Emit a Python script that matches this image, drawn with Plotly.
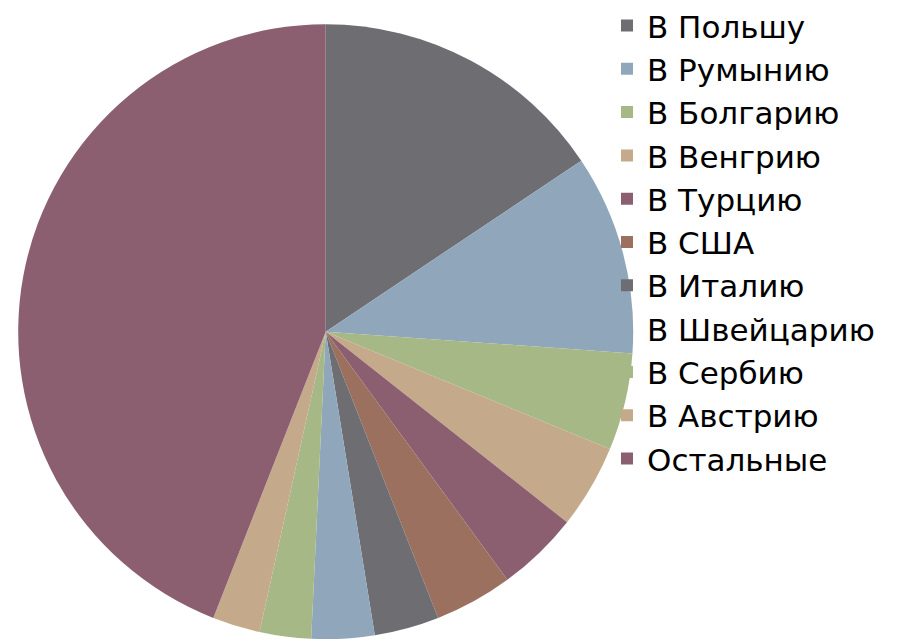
import plotly.graph_objects as go

labels = ["В Польшу", "В Румынию", "В Болгарию", "В Венгрию", "В Турцию", "В США",
          "В Италию", "В Швейцарию", "В Сербию", "В Австрию", "Остальные"]
values = [15.6, 10.5, 5.1, 4.4, 4.3, 4.1, 3.4, 3.3, 2.7, 2.5, 44.0]
colors = ["#6e6d72", "#8fa6bb", "#a7b887", "#c4aa8b", "#8b5f70", "#9c705e",
          "#6e6d72", "#8fa6bb", "#a7b887", "#c4aa8b", "#8b5f70"]

W, H = 904, 639

fig = go.Figure(go.Pie(
    labels=labels,
    values=values,
    sort=False,
    direction="clockwise",
    rotation=0,
    textinfo="none",
    hoverinfo="label+percent",
    marker=dict(colors=colors, line=dict(width=0)),
    domain=dict(x=[10.2 / W, 625.2 / W], y=[7.8 / H, 622.8 / H]),
))

fig.update_layout(
    width=W, height=H,
    margin=dict(l=0, r=0, t=0, b=0, autoexpand=False),
    paper_bgcolor="white",
    plot_bgcolor="white",
    font=dict(family="DejaVu Sans, Liberation Sans, sans-serif", color="black"),
    legend=dict(
        x=0.6626, y=1.0143, xanchor="left", yanchor="top",
        font=dict(size=31, color="black"),
        bgcolor="rgba(0,0,0,0)",
        maxheight=1,
        itemclick=False,
    ),
    showlegend=True,
)

fig.write_html("out.html")
